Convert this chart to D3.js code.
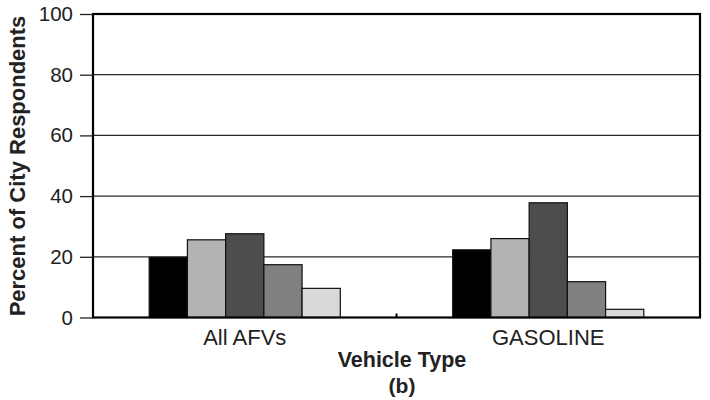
<!DOCTYPE html>
<html>
<head>
<meta charset="utf-8">
<script src="https://cdn.jsdelivr.net/npm/d3@7"></script>
<style>
  html, body { margin: 0; padding: 0; background: #fff; }
  svg { display: block; font-family: "Liberation Sans", Arial, sans-serif; }
</style>
</head>
<body>
<svg id="chart" width="710" height="400"></svg>
<script>
// Vehicle types on the x axis
const categories = ["All AFVs", "GASOLINE"];
// Five response groups per vehicle type (percent of city respondents)
const seriesNames = ["s1", "s2", "s3", "s4", "s5"];
const afvValues = [19.8, 25.6, 27.6, 17.4, 9.6];
const gasolineValues = [22.3, 26.0, 37.8, 11.8, 2.7];
const seriesFill = ["#000000", "#b3b3b3", "#4d4d4d", "#808080", "#d9d9d9"];
const yTicks = [0, 20, 40, 60, 80, 100];

const rows = [afvValues, gasolineValues];

const svg = d3.select("#chart");
const margin = { left: 93, right: 10, top: 14, bottom: 82.5 };
const W = 710, H = 400;
const plotW = W - margin.left - margin.right;
const plotH = H - margin.top - margin.bottom;

const g = svg.append("g").attr("transform", `translate(${margin.left},${margin.top})`);

const x0 = d3.scaleBand().domain(categories).range([0, plotW]).padding(0);
const x1 = d3.scaleBand().domain(seriesNames).range([0, x0.bandwidth()])
  .paddingInner(0).paddingOuter(1.47);
const y = d3.scaleLinear().domain([0, 100]).range([plotH, 0]);

// Horizontal gridlines
g.append("g")
  .selectAll("line")
  .data(yTicks.filter(t => t > 0 && t < 100))
  .join("line")
  .attr("x1", 0).attr("x2", plotW)
  .attr("y1", d => y(d)).attr("y2", d => y(d))
  .attr("stroke", "#2a2a2a").attr("stroke-width", 1.2);

// Bars
const groups = g.append("g")
  .selectAll("g")
  .data(categories.map((c, i) => ({ cat: c, vals: rows[i] })))
  .join("g")
  .attr("transform", d => `translate(${x0(d.cat)},0)`);

groups.selectAll("rect")
  .data(d => d.vals.map((v, i) => ({ key: seriesNames[i], v, fill: seriesFill[i] })))
  .join("rect")
  .attr("x", d => x1(d.key))
  .attr("width", x1.bandwidth())
  .attr("y", d => y(d.v))
  .attr("height", d => y(0) - y(d.v))
  .attr("fill", d => d.fill)
  .attr("stroke", "#111")
  .attr("stroke-width", 1.2);

// Plot frame
g.append("rect")
  .attr("x", 0).attr("y", 0)
  .attr("width", plotW).attr("height", plotH)
  .attr("fill", "none")
  .attr("stroke", "#000")
  .attr("stroke-width", 2.2);

// Y axis: ticks outside, labels
const yAxis = d3.axisLeft(y).tickValues(yTicks).tickSize(13).tickPadding(7);
const ya = g.append("g").call(yAxis);
ya.select(".domain").remove();
ya.selectAll(".tick line").attr("stroke", "#222").attr("stroke-width", 1.3);
ya.selectAll(".tick text")
  .attr("font-size", 20.5)
  .attr("fill", "#222")
  .style("font-family", "'Liberation Sans', Arial, sans-serif");

// X axis: category labels and a small inner tick between groups
const xa = g.append("g").attr("transform", `translate(0,${plotH})`);
xa.selectAll("text")
  .data(categories)
  .join("text")
  .attr("x", d => x0(d) + x0.bandwidth() / 2)
  .attr("y", 27.5)
  .attr("text-anchor", "middle")
  .attr("font-size", 22)
  .attr("fill", "#222")
  .text(d => d);
xa.append("line")
  .attr("x1", x0.bandwidth()).attr("x2", x0.bandwidth())
  .attr("y1", 0).attr("y2", -4)
  .attr("stroke", "#000").attr("stroke-width", 2);

// Axis titles
svg.append("text")
  .attr("x", 402).attr("y", 366.5)
  .attr("text-anchor", "middle")
  .attr("font-size", 21.5).attr("font-weight", "bold")
  .attr("fill", "#222")
  .text("Vehicle Type");
svg.append("text")
  .attr("x", 402).attr("y", 392.5)
  .attr("text-anchor", "middle")
  .attr("font-size", 21).attr("font-weight", "bold")
  .attr("fill", "#222")
  .text("(b)");
svg.append("text")
  .attr("transform", "translate(25,166) rotate(-90)")
  .attr("text-anchor", "middle")
  .attr("font-size", 22).attr("font-weight", "bold")
  .attr("fill", "#222")
  .text("Percent of City Respondents");
</script>
</body>
</html>
